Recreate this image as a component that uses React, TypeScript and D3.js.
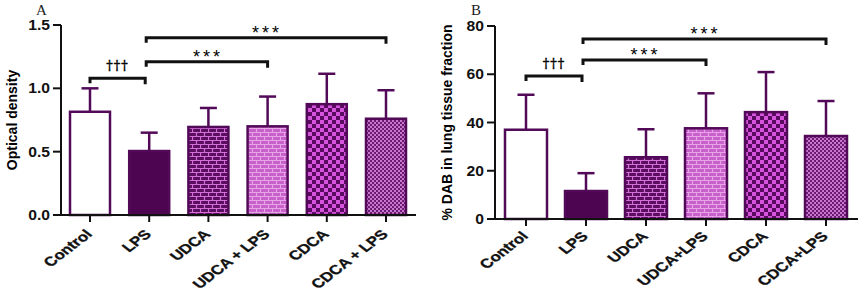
import React from "react";
import * as d3 from "d3";

const groupsA = ["Control", "LPS", "UDCA", "UDCA + LPS", "CDCA", "CDCA + LPS"];
const groupsB = ["Control", "LPS", "UDCA", "UDCA+LPS", "CDCA", "CDCA+LPS"];
const fills = ["#ffffff", "#4d0552", "url(#brickDark)", "url(#brickLight)", "url(#checkBig)", "url(#checkSmall)"];

const meanA = [0.815, 0.505, 0.695, 0.70, 0.875, 0.76];
const errA = [0.185, 0.145, 0.15, 0.235, 0.24, 0.225];
const meanB = [37.0, 11.6, 25.6, 37.6, 44.3, 34.4];
const errB = [14.5, 7.4, 11.6, 14.5, 16.6, 14.5];

const ticksA = [0, 0.5, 1.0, 1.5];
const ticksB = [0, 20, 40, 60, 80];

// [from, to, level, label]
const bracketsA: [number, number, number, string][] = [
  [0, 1, 1.08, "†††"],
  [1, 3, 1.21, "***"],
  [1, 5, 1.40, "***"],
];
const bracketsB: [number, number, number, string][] = [
  [0, 1, 59.3, "†††"],
  [1, 3, 65.9, "***"],
  [1, 5, 74.6, "***"],
];

const PURPLE = "#520a58";
const SANS = "'Liberation Sans', Arial, sans-serif";

type PanelProps = {
  letter: string;
  letterX: number;
  groups: string[];
  means: number[];
  errs: number[];
  ticks: number[];
  tickFmt: (v: number) => string;
  brackets: [number, number, number, string][];
  yLabel: string;
  yLabelX: number;
  axisX: number;
  axisEnd: number;
  yTop: number;
  yBottom: number;
  maxVal: number;
  x0: number;
  x1: number;
  barW: number;
  labelDy: number;
};

const Panel = (p: PanelProps) => {
  const y = d3.scaleLinear().domain([0, p.maxVal]).range([p.yBottom, p.yTop]);
  const x = d3.scalePoint<string>().domain(p.groups).range([p.x0, p.x1]);
  const cap = 8.5;
  return (
    <g>
      <text x={p.letterX} y={15} fontFamily="'Liberation Serif', 'Times New Roman', serif" fontSize={15} fill="#222">
        {p.letter}
      </text>
      <text
        transform={`translate(${p.yLabelX},${(p.yTop + p.yBottom) / 2}) rotate(-90)`}
        textAnchor="middle"
        fontFamily={SANS}
        fontWeight="bold"
        fontSize={14}
      >
        {p.yLabel}
      </text>
      {/* bars + error bars */}
      {p.groups.map((g, i) => {
        const cx = x(g)!;
        const top = y(p.means[i]);
        const et = y(p.means[i] + p.errs[i]);
        return (
          <g key={g}>
            <line x1={cx} x2={cx} y1={top} y2={et} stroke={PURPLE} strokeWidth={2.5} />
            <line x1={cx - cap} x2={cx + cap} y1={et} y2={et} stroke={PURPLE} strokeWidth={2.5} />
            <rect
              x={cx - p.barW / 2}
              y={top}
              width={p.barW}
              height={p.yBottom - top}
              fill={fills[i]}
              stroke={PURPLE}
              strokeWidth={2.5}
            />
          </g>
        );
      })}
      {/* axes */}
      <line x1={p.axisX} x2={p.axisX} y1={p.yTop} y2={p.yBottom + 1} stroke="#111" strokeWidth={2} />
      <line x1={p.axisX} x2={p.axisEnd} y1={p.yBottom} y2={p.yBottom} stroke="#111" strokeWidth={2} />
      {p.ticks.map((t) => (
        <g key={t}>
          <line x1={p.axisX - 8} x2={p.axisX} y1={y(t)} y2={y(t)} stroke="#111" strokeWidth={2} />
          <text
            transform={`translate(${p.axisX - 11},${y(t)}) scale(1.12,1)`}
            dy="0.36em"
            textAnchor="end"
            fontFamily={SANS}
            fontWeight="bold"
            fontSize={14}
            fill="#111"
          >
            {p.tickFmt(t)}
          </text>
        </g>
      ))}
      {p.groups.map((g) => {
        const cx = x(g)!;
        return (
          <g key={"t" + g}>
            <line x1={cx} x2={cx} y1={p.yBottom} y2={p.yBottom + 7} stroke="#111" strokeWidth={2} />
            <text
              transform={`translate(${cx + 3},${p.yBottom + p.labelDy}) scale(1.3,1) rotate(-45)`}
              textAnchor="end"
              fontFamily={SANS}
              fontWeight="bold"
              fontSize={13}
              stroke="#111"
              strokeWidth={0.3}
              fill="#111"
            >
              {g}
            </text>
          </g>
        );
      })}
      {/* significance brackets */}
      {p.brackets.map(([a, b, lv, lab], k) => {
        const xa = a === 0 ? x(p.groups[a])! : x(p.groups[a])! - 3;
        const xb = b === 1 ? x(p.groups[b])! - 4 : x(p.groups[b])!;
        const yy = y(lv);
        const isDagger = lab.startsWith("†");
        return (
          <g key={k}>
            <path
              d={`M${xa},${yy + 5}V${yy}H${xb}V${yy + 6}`}
              fill="none"
              stroke="#111"
              strokeWidth={3}
            />
            <text
              x={(xa + xb) / 2 + (isDagger ? 0 : 1)}
              y={isDagger ? yy - 8 : yy + 1}
              textAnchor="middle"
              fontFamily={isDagger ? "'DejaVu Serif', serif" : SANS}
              fontSize={isDagger ? 13 : 18}
              letterSpacing={isDagger ? 1 : 3}
              fill="#000"
              stroke={isDagger ? "#000" : "none"}
              strokeWidth={0.4}
            >
              {lab}
            </text>
          </g>
        );
      })}
    </g>
  );
};

export default function App() {
  return (
    <div style={{ position: "absolute", left: 0, top: 0 }}>
      <svg width={858} height={293} style={{ display: "block", background: "#fff" }}>
        <defs>
          <pattern id="brickDark" width={8} height={8} patternUnits="userSpaceOnUse">
            <rect width={8} height={8} fill="#5a0e60" />
            <path d="M0,0.5H8M0,4.5H8M0.5,0V4.5M4.5,4.5V8" stroke="#d56fd8" strokeWidth={1.2} />
          </pattern>
          <pattern id="brickLight" width={8} height={8} patternUnits="userSpaceOnUse">
            <rect width={8} height={8} fill="#c861cc" />
            <path d="M0,0.5H8M0,4.5H8M0.5,0V4.5M4.5,4.5V8" stroke="#e7a5e8" strokeWidth={1.1} />
          </pattern>
          <pattern id="checkBig" width={8} height={8} patternUnits="userSpaceOnUse">
            <rect width={8} height={8} fill="#5a0a60" />
            <rect width={4} height={4} fill="#d653dc" />
            <rect x={4} y={4} width={4} height={4} fill="#d653dc" />
          </pattern>
          <pattern id="checkSmall" width={4} height={4} patternUnits="userSpaceOnUse">
            <rect width={4} height={4} fill="#6e1a74" />
            <rect width={2} height={2} fill="#c578cc" />
            <rect x={2} y={2} width={2} height={2} fill="#c578cc" />
          </pattern>
        </defs>
        <Panel
          letter="A"
          letterX={36}
          groups={groupsA}
          means={meanA}
          errs={errA}
          ticks={ticksA}
          tickFmt={(v) => v.toFixed(1)}
          brackets={bracketsA}
          yLabel="Optical density"
          yLabelX={17}
          axisX={61}
          axisEnd={416}
          yTop={25}
          yBottom={215}
          maxVal={1.5}
          x0={90}
          x1={386}
          barW={40}
          labelDy={20}
        />
        <Panel
          letter="B"
          letterX={471}
          groups={groupsB}
          means={meanB}
          errs={errB}
          ticks={ticksB}
          tickFmt={(v) => String(v)}
          brackets={bracketsB}
          yLabel="% DAB in lung tissue fraction"
          yLabelX={452}
          axisX={495}
          axisEnd={858}
          yTop={26}
          yBottom={219}
          maxVal={80}
          x0={526}
          x1={826}
          barW={42}
          labelDy={18}
        />
      </svg>
    </div>
  );
}
